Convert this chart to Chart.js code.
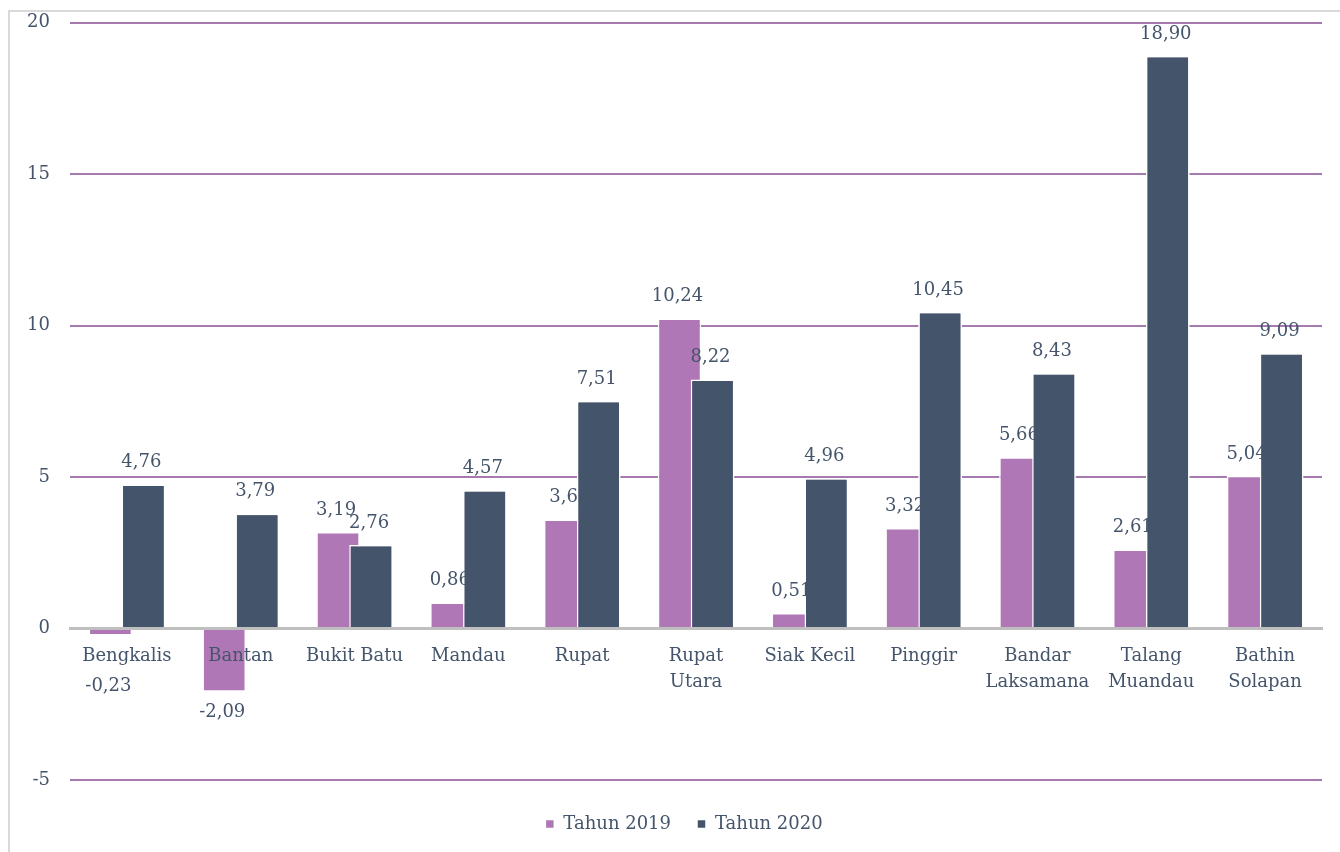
<!DOCTYPE html>
<html>
<head>
<meta charset="utf-8">
<script src="https://cdn.jsdelivr.net/npm/chart.js@4.4.0/dist/chart.umd.min.js"></script>
<style>
  body { margin: 0; background: #fff; overflow: hidden; }
  #frame { position: absolute; left: 8px; top: 10px; width: 1400px; height: 900px; border: 2px solid #d9d9d9; }
  #wrap { position: absolute; left: 0; top: -8px; width: 1340px; height: 860px; }
</style>
</head>
<body>
<div id="frame"></div>
<div id="wrap"><canvas id="chart"></canvas></div>
<script>
// Categories (districts) and values per year
const categories = [
    'Bengkalis', 'Bantan', 'Bukit Batu', 'Mandau', 'Rupat', ['Rupat', 'Utara'],
    'Siak Kecil', 'Pinggir', ['Bandar', 'Laksamana'], ['Talang', 'Muandau'], ['Bathin', 'Solapan']
];
const values2019 = [-0.23, -2.09, 3.19, 0.86, 3.6, 10.24, 0.51, 3.32, 5.66, 2.61, 5.04];
const values2020 = [4.76, 3.79, 2.76, 4.57, 7.51, 8.22, 4.96, 10.45, 8.43, 18.90, 9.09];
// Labels as printed on the chart
const labels2019 = ['-0,23', '-2,09', '3,19', '0,86', '3,6', '10,24', '0,51', '3,32', '5,66', '2,61', '5,04'];
const labels2020 = ['4,76', '3,79', '2,76', '4,57', '7,51', '8,22', '4,96', '10,45', '8,43', '18,90', '9,09'];
const yTicks = [-5, 0, 5, 10, 15, 20];

const textColor = '#44546A';
const fontFamily = '"DejaVu Serif", serif';

// Draw value labels above (or below) each bar
const valueLabels = {
    id: 'valueLabels',
    afterLayout(chart) {
        // legend sits a little right of the canvas centre and a bit lower
        chart.legend.left += 23;
        chart.legend.right += 23;
        chart.legend.top += 9;
        chart.legend.bottom += 9;
    },
    afterDatasetsDraw(chart) {
        // dark bars sit on top of the pink ones
        chart.getDatasetMeta(1).controller.draw();
        const ctx = chart.ctx;
        const zeroY = chart.scales.y.getPixelForValue(0);
        const allLabels = [labels2019, labels2020];
        ctx.save();
        ctx.font = '18px ' + fontFamily;
        ctx.fillStyle = textColor;
        ctx.textAlign = 'center';
        ctx.textBaseline = 'middle';
        chart.data.datasets.forEach((ds, i) => {
            const meta = chart.getDatasetMeta(i);
            meta.data.forEach((bar, j) => {
                let y;
                if (ds.data[j] >= 0) {
                    y = bar.y - 22;
                } else {
                    y = Math.max(bar.y + 20, zeroY + 58);
                }
                ctx.fillText(allLabels[i][j], bar.x - 2, y);
            });
        });
        ctx.restore();
    }
};

const ctx = document.getElementById('chart').getContext('2d');
const chart = new Chart(ctx, {
    type: 'bar',
    data: {
        labels: categories,
        datasets: [{
            label: 'Tahun 2019',
            data: values2019,
            backgroundColor: '#B077B6',
            borderColor: '#ffffff',
            borderWidth: 1.5,
            categoryPercentage: 0.58,
            barPercentage: 1.32
        }, {
            label: 'Tahun 2020',
            data: values2020,
            backgroundColor: '#44546A',
            borderColor: '#ffffff',
            borderWidth: 1.5,
            categoryPercentage: 0.58,
            barPercentage: 1.32
        }]
    },
    options: {
        responsive: true,
        maintainAspectRatio: false,
        animation: false,
        layout: { padding: { top: 5, right: 18, bottom: 18, left: 0 } },
        scales: {
            x: {
                position: { y: 0 },
                grid: { display: false, drawTicks: false },
                border: { display: true, color: '#BFBFBF', width: 3, z: 1 },
                ticks: {
                    z: 1,
                    color: textColor,
                    font: { family: fontFamily, size: 18, lineHeight: 1.45 },
                    padding: 15,
                    maxRotation: 0,
                    autoSkip: false
                }
            },
            y: {
                min: -5,
                max: 20,
                afterBuildTicks(axis) {
                    axis.ticks = yTicks.map(v => ({ value: v }));
                },
                afterFit(axis) { axis.width = 70; },
                border: { display: false },
                grid: {
                    drawTicks: false,
                    color: c => c.tick.value === 0 ? 'rgba(0,0,0,0)' : '#A77AAF',
                    lineWidth: 2
                },
                ticks: {
                    color: textColor,
                    font: { family: fontFamily, size: 18 },
                    padding: 20
                }
            }
        },
        plugins: {
            tooltip: { enabled: false },
            legend: {
                position: 'bottom',
                labels: {
                    color: textColor,
                    font: { family: fontFamily, size: 18 },
                    boxWidth: 9,
                    boxHeight: 9,
                    padding: 26
                }
            }
        }
    },
    plugins: [valueLabels]
});
</script>
</body>
</html>
